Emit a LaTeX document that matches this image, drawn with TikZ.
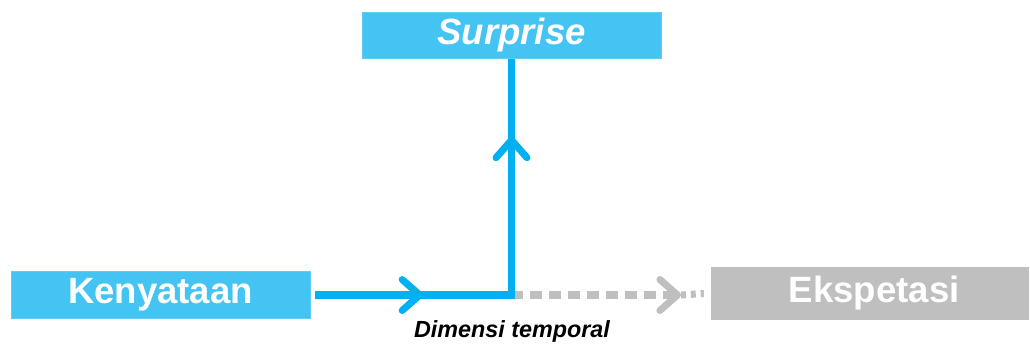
\documentclass[tikz,border=0pt]{standalone}
\usepackage{fontspec}
\setmainfont{Liberation Sans}
\usetikzlibrary{arrows.meta,decorations.markings}

\definecolor{boxBlue}{RGB}{67,196,242}
\definecolor{lineBlue}{RGB}{0,176,240}
\definecolor{boxGray}{RGB}{191,191,191}

\begin{document}
\begin{tikzpicture}[x=0.025cm,y=-0.025cm,
    box/.style={minimum width=7.475cm, minimum height=1.16cm, inner sep=0pt, outer sep=0pt,
      text=white, font=\fontsize{26}{30}\selectfont\bfseries},
    midarrow/.style={postaction={decorate,decoration={markings,
      mark=at position #1 with {\arrow{Straight Barb[length=12.5pt,width=22pt,round]}}}}},
    flow/.style={draw=lineBlue, line width=5pt},
    expected/.style={draw=boxGray, line width=5pt, dash pattern=on 8.5pt off 5pt}]
  %% Frame of the picture
  \useasboundingbox (0,0) rectangle (1030,345);
  %% Boxes
  \node[box, fill=boxBlue, draw=boxBlue!85!white, line width=0.6pt, outer sep=3.6pt] (kenyataan) at (160.5,295) {Kenyataan};
  \node[box, fill=boxBlue, draw=boxBlue!85!white, line width=0.6pt, font=\fontsize{26}{30}\selectfont\bfseries\itshape] (surprise) at (511.5,35.5) {Surprise};
  \node[box, fill=boxGray, minimum width=7.95cm, minimum height=1.325cm, outer sep=5pt] (ekspetasi) at (870,293.5) {\hspace*{6pt}Ekspetasi};
  %% Time axis
  \coordinate (turn) at (kenyataan.east -| surprise.south);
  \coordinate (chevron) at (681,295);
  \draw[expected, midarrow=1] (turn) -- (chevron);
  \draw[expected, dash pattern=on 3.5pt off 3.5pt] (chevron) -- (ekspetasi.west);
  \draw[flow, midarrow=0.25, midarrow=0.82] (kenyataan.east) -| (surprise.south);
  %% Label
  \node[anchor=base, font=\fontsize{16.6}{20}\selectfont\bfseries\itshape] (dimensi) at (512,337) {Dimensi temporal};
\end{tikzpicture}
\end{document}
